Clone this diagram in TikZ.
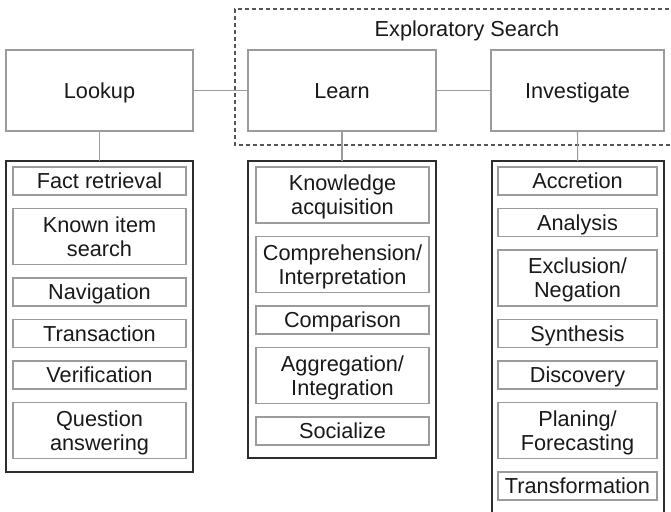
\documentclass[tikz,border=0pt]{standalone}
\usepackage{fontspec}
\setmainfont{Liberation Sans}
\usepackage{tikz}
\usetikzlibrary{positioning}
\definecolor{boxgray}{RGB}{155,155,155}
\definecolor{framedark}{RGB}{45,45,45}
\definecolor{dashgray}{RGB}{85,85,85}
\definecolor{textdark}{RGB}{25,25,25}
\tikzset{
  stage/.style={rectangle, draw=boxgray, line width=1.2pt,
    minimum height=81pt, align=center, inner sep=0pt, outer sep=0pt,
    text=textdark, text height=15.5pt, text depth=0pt,
    font=\fontsize{21.7}{24}\selectfont},
  taskframe/.style={rectangle, draw=framedark, line width=1.6pt, outer sep=0pt},
  task/.style={rectangle, draw=boxgray, line width=1.2pt,
    minimum height=28pt, align=center, inner sep=0pt, outer sep=0pt,
    text=textdark, text height=15.5pt, text depth=0pt,
    font=\fontsize{21.7}{24}\selectfont},
  tasktwo/.style={task, minimum height=56pt, text height=39.5pt},
  link/.style={draw=boxgray, line width=1.2pt},
  searchgroup/.style={draw=dashgray, line width=1.2pt, dash pattern=on 4pt off 3pt}
}

\begin{document}
\begin{tikzpicture}[x=1pt, y=-1pt]
  \clip (0,0) rectangle (671,511);

  % Exploratory search group (open to the right)
  \draw[searchgroup] (690,9) -| (235,145) -- (690,145);
  \node[anchor=base, text=textdark, font=\fontsize{21.7}{24}\selectfont] (searchlabel) at (467,37) {Exploratory Search};

  % Search activities
  \node[stage, minimum width=187pt] (lookup) at (99.5,90.5) {Lookup};
  \node[stage, minimum width=188pt] (learn) at (342,90.5) {Learn};
  \node[stage, minimum width=173pt] (investigate) at (577.5,90.5) {Investigate};
  \draw[link] (lookup) -- (learn);
  \draw[link] (learn) -- (investigate);

  % Task frames
  \node[taskframe, minimum width=187pt, minimum height=311pt] (lookupset) at (99.5,316.5) {};
  \node[taskframe, minimum width=188pt, minimum height=297pt] (learnset) at (342,309.5) {};
  \node[taskframe, minimum width=172pt, minimum height=360pt] (investset) at (578,341) {};
  \draw[link] (lookup) -- (lookupset);
  \draw[link] (learn) -- (learnset);
  \draw[link] (investigate) -- (investset);

  % Lookup tasks
  \node[task, minimum width=173pt] (lk1) at (99.5,181) {Fact retrieval};
  \node[tasktwo, minimum width=173pt, below=13.5pt of lk1] (lk2) {Known item\\search};
  \node[task, minimum width=173pt, below=13.5pt of lk2] (lk3) {Navigation};
  \node[task, minimum width=173pt, below=13.5pt of lk3] (lk4) {Transaction};
  \node[task, minimum width=173pt, below=13.5pt of lk4] (lk5) {Verification};
  \node[tasktwo, minimum width=173pt, below=13.5pt of lk5] (lk6) {Question\\answering};

  % Learn tasks
  \node[tasktwo, minimum width=173pt] (ln1) at (342.5,195) {Knowledge\\acquisition};
  \node[tasktwo, minimum width=173pt, below=13.5pt of ln1] (ln2) {Comprehension/\\Interpretation};
  \node[task, minimum width=173pt, below=13.5pt of ln2] (ln3) {Comparison};
  \node[tasktwo, minimum width=173pt, below=13.5pt of ln3] (ln4) {Aggregation/\\Integration};
  \node[task, minimum width=173pt, below=13.5pt of ln4] (ln5) {Socialize};

  % Investigate tasks
  \node[task, minimum width=159pt] (iv1) at (577.5,181) {Accretion};
  \node[task, minimum width=159pt, below=13.5pt of iv1] (iv2) {Analysis};
  \node[tasktwo, minimum width=159pt, below=13.5pt of iv2] (iv3) {Exclusion/\\Negation};
  \node[task, minimum width=159pt, below=13.5pt of iv3] (iv4) {Synthesis};
  \node[task, minimum width=159pt, below=13.5pt of iv4] (iv5) {Discovery};
  \node[tasktwo, minimum width=159pt, below=13.5pt of iv5] (iv6) {Planing/\\Forecasting};
  \node[task, minimum width=159pt, below=13.5pt of iv6] (iv7) {Transformation};
\end{tikzpicture}
\end{document}
